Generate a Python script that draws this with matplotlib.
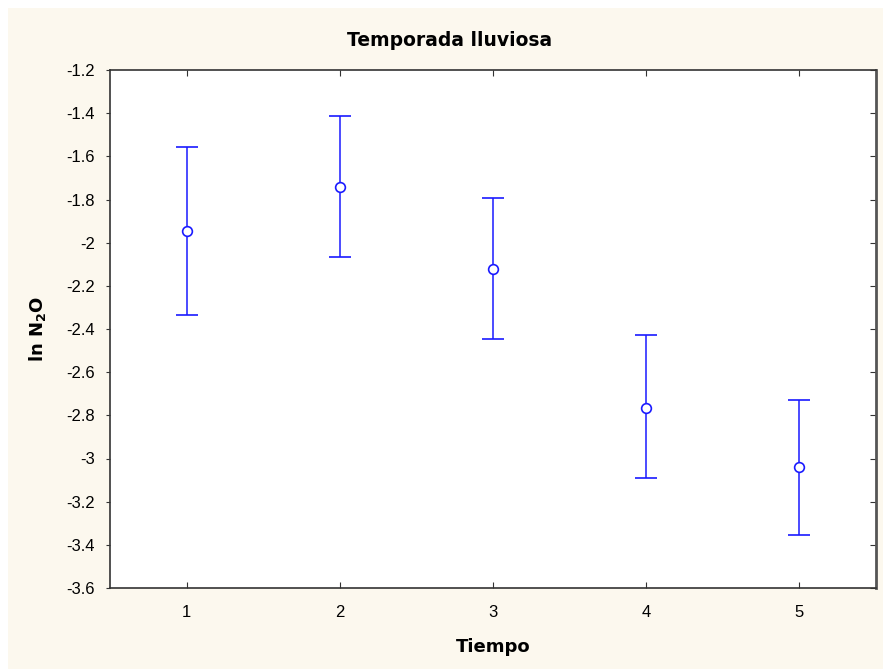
import matplotlib
matplotlib.use("Agg")
import matplotlib.pyplot as plt
from matplotlib.patches import Rectangle

# data
tiempo = [1, 2, 3, 4, 5]
media = [-1.946, -1.740, -2.122, -2.766, -3.040]
upper = [-1.557, -1.413, -1.793, -2.428, -2.729]
lower = [-2.335, -2.067, -2.447, -3.091, -3.355]
yticks = [-1.2, -1.4, -1.6, -1.8, -2.0, -2.2, -2.4, -2.6, -2.8, -3.0, -3.2, -3.4, -3.6]
ytick_labels = ["-1.2", "-1.4", "-1.6", "-1.8", "-2", "-2.2", "-2.4", "-2.6",
                "-2.8", "-3", "-3.2", "-3.4", "-3.6"]

CREAM = "#fcf8ee"
BLUE = "#1a1aff"

fig = plt.figure(figsize=(8.83, 6.69), dpi=100, facecolor=CREAM)
# thin white margin on the left and top edges
fig.add_artist(Rectangle((0, 0), 8 / 883, 1, transform=fig.transFigure,
                         facecolor="white", edgecolor="none", zorder=-10))
fig.add_artist(Rectangle((0, 1 - 8 / 669), 1, 8 / 669, transform=fig.transFigure,
                         facecolor="white", edgecolor="none", zorder=-10))

ax = fig.add_axes([110 / 883, 1 - 588 / 669, 766 / 883, 518 / 669])
ax.set_facecolor("white")

err_lo = [m - l for m, l in zip(media, lower)]
err_hi = [u - m for m, u in zip(media, upper)]
ax.errorbar(tiempo, media, yerr=[err_lo, err_hi], fmt="o", color=BLUE,
            ecolor=BLUE, elinewidth=1.1, capsize=8, capthick=1.1,
            markersize=7, markerfacecolor="white", markeredgecolor=BLUE,
            markeredgewidth=1.2)

ax.set_xlim(0.5, 5.5)
ax.set_ylim(-3.6, -1.2)
ax.set_xticks(tiempo)
ax.set_yticks(yticks)
ax.set_yticklabels(ytick_labels)

ax.tick_params(axis="x", direction="in", length=4, top=True, pad=12,
               color="#333333", labelsize=12)
ax.tick_params(axis="y", direction="out", length=3, pad=8,
               color="#333333", labelsize=12)
for lab in ax.get_xticklabels() + ax.get_yticklabels():
    lab.set_fontfamily("Liberation Sans")

ax2 = ax.secondary_yaxis("right")
ax2.set_yticks(yticks)
ax2.tick_params(direction="in", length=4, labelright=False, color="#333333")

for s in ax.spines.values():
    s.set_color("#333333")
    s.set_linewidth(1.2)
ax.spines["right"].set_color("#555555")
ax.spines["right"].set_linewidth(2)
ax2.spines["right"].set_visible(False)

# title is centred on the page, not on the axes
fig.text(450 / 883, 1 - 40 / 669, "Temporada lluviosa", fontsize=13.5,
         fontweight="bold", family="DejaVu Sans", ha="center", va="center")
ax.set_xlabel("Tiempo", fontsize=13, fontweight="bold", family="DejaVu Sans", labelpad=13)
ax.set_ylabel(r"ln N$_\mathregular{2}$O", fontsize=13, fontweight="bold",
              family="DejaVu Sans", labelpad=13)

fig.savefig("out.png", dpi=100, facecolor=fig.get_facecolor())
